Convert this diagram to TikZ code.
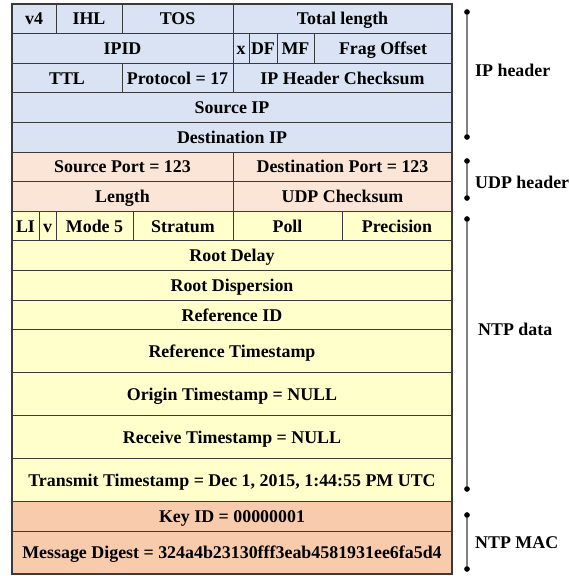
\documentclass[tikz,border=0pt]{standalone}
\usepackage{fontspec}
\setmainfont{Liberation Serif}
\definecolor{ipfill}{HTML}{DAE3F3}
\definecolor{udpfill}{HTML}{FBE5D6}
\definecolor{ntpfill}{HTML}{FFFFCC}
\definecolor{macfill}{HTML}{F8CBAD}
\definecolor{rule}{HTML}{3A3A3A}
\definecolor{brk}{HTML}{808080}
\tikzset{
  cellbox/.style={draw=rule, line width=0.9pt, inner sep=0pt, outer sep=0pt,
    text height=12.6pt, text depth=0.4pt,
    font=\fontsize{17.9}{20}\selectfont\bfseries, text=black},
  lab/.style={anchor=west, inner sep=0pt, text height=12.6pt, text depth=0.4pt,
    font=\fontsize{17.9}{20}\selectfont\bfseries},
  dot/.style={circle, fill=black, inner sep=0pt, minimum size=5.4pt},
  brkline/.style={draw=brk, line width=1.3pt},
}
% \fieldcell{name}{x1}{y1}{x2}{y2}{fill}{text}
\newcommand\fieldcell[7]{%
  \pgfmathsetmacro\cellw{#4-#2}%
  \pgfmathsetmacro\cellh{#5-#3}%
  \node[cellbox, fill=#6, minimum width=\cellw pt, minimum height=\cellh pt]
    (#1) at ({(#2+#4)/2},{(#3+#5)/2}) {#7};}
\begin{document}
\begin{tikzpicture}[x=1pt, y=-1pt]
\useasboundingbox (0,0) rectangle (570,576);
% IP header
\fieldcell{ver}{12}{4}{56}{33.6}{ipfill}{v4}
\fieldcell{ihl}{56}{4}{122}{33.6}{ipfill}{IHL}
\fieldcell{tos}{122}{4}{233}{33.6}{ipfill}{TOS}
\fieldcell{totlen}{233}{4}{452}{33.6}{ipfill}{Total length}
\fieldcell{ipid}{12}{33.6}{233}{63.2}{ipfill}{IPID}
\fieldcell{xflag}{233}{33.6}{249}{63.2}{ipfill}{x}
\fieldcell{dfflag}{249}{33.6}{277}{63.2}{ipfill}{DF}
\fieldcell{mfflag}{277}{33.6}{314}{63.2}{ipfill}{MF}
\fieldcell{fragoff}{314}{33.6}{452}{63.2}{ipfill}{Frag Offset}
\fieldcell{ttl}{12}{63.2}{122}{92.8}{ipfill}{TTL}
\fieldcell{proto}{122}{63.2}{233}{92.8}{ipfill}{Protocol = 17}
\fieldcell{ipsum}{233}{63.2}{452}{92.8}{ipfill}{IP Header Checksum}
\fieldcell{srcip}{12}{92.8}{452}{122.4}{ipfill}{Source IP}
\fieldcell{dstip}{12}{122.4}{452}{152}{ipfill}{Destination IP}
% UDP header
\fieldcell{srcport}{12}{152}{233}{181.6}{udpfill}{Source Port = 123}
\fieldcell{dstport}{233}{152}{452}{181.6}{udpfill}{Destination Port = 123}
\fieldcell{udplen}{12}{181.6}{233}{211.2}{udpfill}{Length}
\fieldcell{udpsum}{233}{181.6}{452}{211.2}{udpfill}{UDP Checksum}
% NTP data
\fieldcell{li}{12}{211.2}{39}{240.8}{ntpfill}{LI}
\fieldcell{vn}{39}{211.2}{56}{240.8}{ntpfill}{v}
\fieldcell{mode}{56}{211.2}{133}{240.8}{ntpfill}{Mode 5}
\fieldcell{stratum}{133}{211.2}{233}{240.8}{ntpfill}{Stratum}
\fieldcell{poll}{233}{211.2}{342}{240.8}{ntpfill}{Poll}
\fieldcell{prec}{342}{211.2}{452}{240.8}{ntpfill}{Precision}
\fieldcell{rdelay}{12}{240.8}{452}{270.4}{ntpfill}{Root Delay}
\fieldcell{rdisp}{12}{270.4}{452}{300}{ntpfill}{Root Dispersion}
\fieldcell{refid}{12}{300}{452}{329.8}{ntpfill}{Reference ID}
\fieldcell{refts}{12}{329.8}{452}{372.7}{ntpfill}{Reference Timestamp}
\fieldcell{origts}{12}{372.7}{452}{415.7}{ntpfill}{Origin Timestamp = NULL}
\fieldcell{recvts}{12}{415.7}{452}{458.7}{ntpfill}{Receive Timestamp = NULL}
\fieldcell{xmitts}{12}{458.7}{452}{501.7}{ntpfill}{Transmit Timestamp = Dec 1, 2015, 1:44:55 PM UTC}
% NTP MAC
\fieldcell{keyid}{12}{501.7}{452}{531}{macfill}{Key ID = 00000001}
\fieldcell{digest}{12}{531}{452}{574}{macfill}{Message Digest = 324a4b23130fff3eab4581931ee6fa5d4}
% outer frame
\draw[rule, line width=1.2pt] (ver.north west) rectangle (digest.south east);
% brackets on the right
\node[dot] (ipT) at (467,12) {};
\node[dot] (ipB) at (467,137) {};
\node[dot] (udpT) at (467,161) {};
\node[dot] (udpB) at (467,198) {};
\node[dot] (ntpT) at (467,219) {};
\node[dot] (ntpB) at (467,489) {};
\node[dot] (macT) at (467,515) {};
\node[dot] (macB) at (467,569) {};
\draw[brkline] (ipT.center) -- (ipB.center);
\draw[brkline] (udpT.center) -- (udpB.center);
\draw[brkline] (ntpT.center) -- (ntpB.center);
\draw[brkline] (macT.center) -- (macB.center);
\node[dot] at (ipT) {};
\node[dot] at (ipB) {};
\node[dot] at (udpT) {};
\node[dot] at (udpB) {};
\node[dot] at (ntpT) {};
\node[dot] at (ntpB) {};
\node[dot] at (macT) {};
\node[dot] at (macB) {};
\node[lab] (iplab) at (475,70) {IP header};
\node[lab] (udplab) at (475,182) {UDP header};
\node[lab] (ntplab) at (478,329) {NTP data};
\node[lab] (maclab) at (475,542) {NTP MAC};
\end{tikzpicture}
\end{document}
